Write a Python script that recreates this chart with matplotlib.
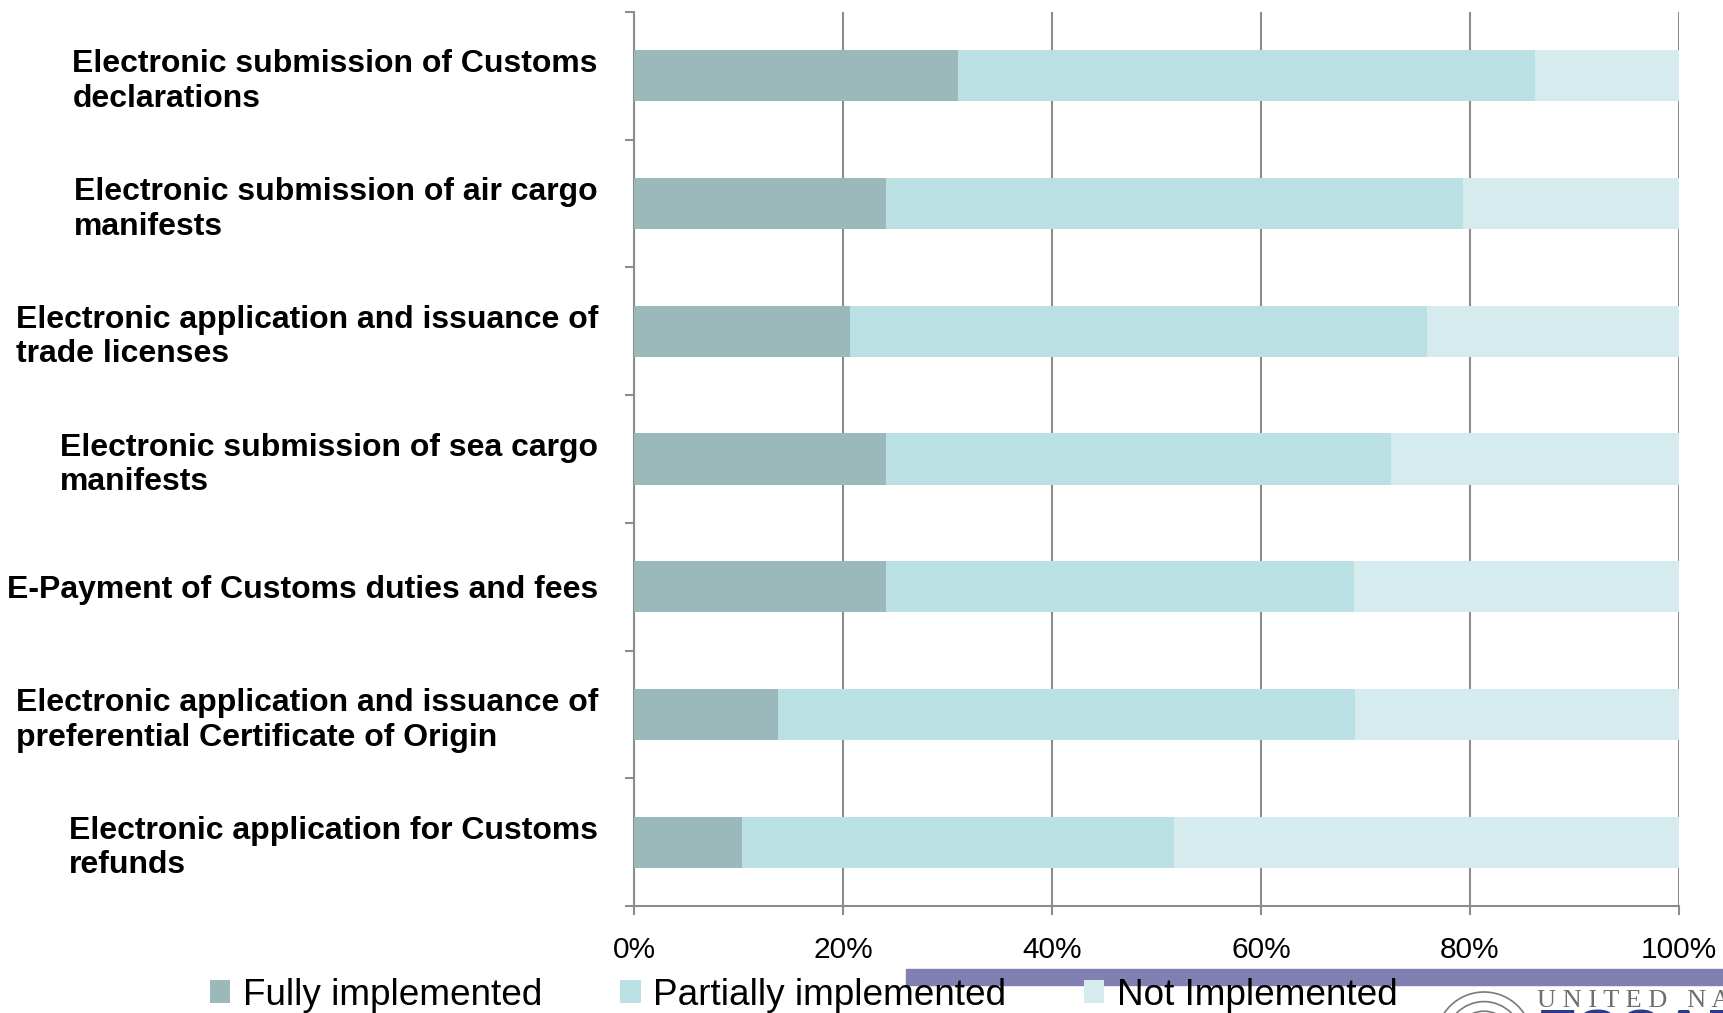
import matplotlib
matplotlib.use("Agg")
import matplotlib.pyplot as plt
import numpy as np
from matplotlib.patches import Rectangle, Circle

plt.rcParams['font.family'] = ['Liberation Sans', 'DejaVu Sans']

categories = [
    "Electronic submission of Customs\ndeclarations",
    "Electronic submission of air cargo\nmanifests",
    "Electronic application and issuance of\ntrade licenses",
    "Electronic submission of sea cargo\nmanifests",
    "E-Payment of Customs duties and fees",
    "Electronic application and issuance of\npreferential Certificate of Origin",
    "Electronic application for Customs\nrefunds",
]
fully = [31.0, 24.1, 20.7, 24.1, 24.1, 13.8, 10.3]
partial = [55.2, 55.2, 55.2, 48.3, 44.8, 55.2, 41.4]
not_impl = [13.8, 20.7, 24.1, 27.6, 31.1, 31.0, 48.3]
series_names = ["Fully implemented", "Partially implemented", "Not Implemented"]
colors = ["#9BB9BB", "#BBE0E3", "#D6EBEE"]
xticks = [0, 20, 40, 60, 80, 100]
xticklabels = ["0%", "20%", "40%", "60%", "80%", "100%"]

W, H = 1723, 1013
fig = plt.figure(figsize=(W / 100, H / 100), dpi=100)
ax = fig.add_axes([634 / W, 1 - 906 / H, (1679 - 634) / W, (906 - 12) / H])

y = np.arange(len(categories))
left = np.zeros(len(categories))
handles = []
for vals, name, c in zip([fully, partial, not_impl], series_names, colors):
    b = ax.barh(y, vals, left=left, height=0.4, color=c, label=name, zorder=3)
    handles.append(b)
    left = left + np.array(vals)

ax.set_xlim(0, 100)
ax.set_ylim(len(categories) - 0.5, -0.5)

grid_color = "#8C8C8C"
ax.set_xticks(xticks)
ax.set_xticklabels(xticklabels, fontsize=21.5)
ax.xaxis.grid(True, color=grid_color, linewidth=1.5, zorder=0)
ax.set_axisbelow(True)
ax.tick_params(axis='x', direction='out', length=6.5, width=1.5, color=grid_color, pad=15)

ax.set_yticks(y)
ax.set_yticklabels(categories, fontsize=23, fontweight='bold', multialignment='left', linespacing=1.2)
ax.set_yticks(np.arange(-0.5, len(categories)), minor=True)
ax.tick_params(axis='y', which='major', length=0, pad=26)
ax.tick_params(axis='y', which='minor', direction='out', length=6.5, width=1.5, color=grid_color)

for s in ['top', 'right']:
    ax.spines[s].set_visible(False)
for s in ['left', 'bottom']:
    ax.spines[s].set_color(grid_color)
    ax.spines[s].set_linewidth(1.5)

# decorative slide band
fig.patches.append(Rectangle((906 / W, 1 - 985 / H), (W - 906) / W, 16 / H,
                             transform=fig.transFigure, color="#8080B2", zorder=1))

leg = fig.legend(handles=handles, labels=series_names, loc='center left',
                 bbox_to_anchor=(210 / W, 1 - 995 / H), ncol=3, frameon=False,
                 fontsize=26.6, handlelength=0.55, handleheight=0.55,
                 handletextpad=0.35, columnspacing=2.1, borderaxespad=0, borderpad=0)
leg.set_zorder(5)

# logo (partially visible at the bottom right)
for rr in [1.0, 0.8, 0.6, 0.4]:
    fig.patches.append(Circle((1484, H - 1040), 48 * rr, transform=None,
                              fill=False, edgecolor="#7A7A7A", linewidth=1.2, zorder=2))
fig.text(1537 / W, 1 - 1007 / H, "U N I T E D   N A T I O N S", fontsize=19,
         family=['Liberation Serif', 'DejaVu Serif'], color="#6E6E6E", ha='left', va='baseline')
fig.text(1537 / W, 1 - 1008 / H, "ESCAP", fontsize=44, fontweight='bold',
         color="#2B3A8F", ha='left', va='top')

fig.savefig("out.png", dpi=100)
